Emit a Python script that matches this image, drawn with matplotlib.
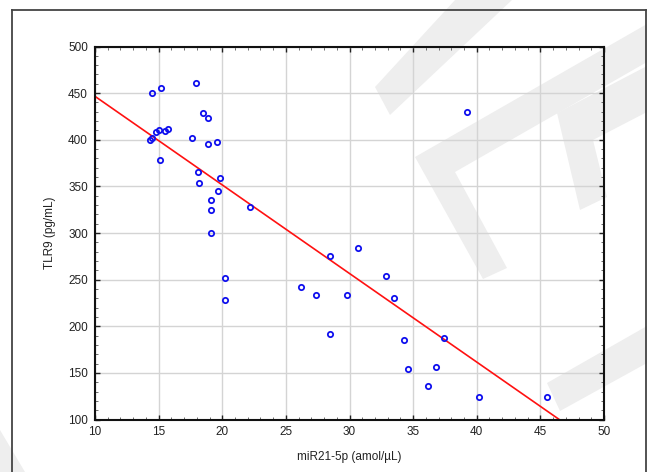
import matplotlib
matplotlib.use("Agg")
import matplotlib.pyplot as plt
import numpy as np
from matplotlib.patches import Polygon
from matplotlib.lines import Line2D
from matplotlib.ticker import MultipleLocator

plt.rcParams['font.family'] = ['Liberation Sans', 'DejaVu Sans']

# data
mir21 = [14.5, 15.2, 17.9, 18.5, 18.9, 14.3, 14.5, 14.8, 15.0, 15.5, 15.7, 17.6, 18.9, 19.6,
         15.1, 18.1, 18.2, 19.8, 19.7, 19.1, 19.1, 19.1, 22.2, 20.2, 20.2, 26.2, 27.4, 28.5,
         28.5, 29.8, 30.7, 32.9, 33.5, 34.3, 34.6, 36.8, 36.2, 37.4, 39.2, 40.2, 45.5]
tlr9 = [450, 455, 461, 429, 423, 400, 402, 408, 410, 409, 411, 402, 395, 398,
        378, 365, 354, 359, 345, 335, 325, 300, 328, 252, 228, 242, 233, 275,
        192, 234, 284, 254, 230, 185, 154, 156, 136, 187, 430, 124, 124]

xticks = [10, 15, 20, 25, 30, 35, 40, 45, 50]
yticks = [100, 150, 200, 250, 300, 350, 400, 450, 500]

W, H = 647, 472
fig = plt.figure(figsize=(W / 100, H / 100), dpi=100)
fig.patch.set_facecolor('white')

# watermark shapes in the background (pixel coords, top-left origin)
marks = [
    [(455, 0), (512, 0), (390, 115), (375, 87)],
    [(633, 32), (647, 24), (647, 62), (455, 172), (507, 268), (483, 279), (415, 157)],
    [(647, 66), (557, 113), (580, 210), (607, 197), (593, 140), (647, 112)],
    [(547, 383), (647, 326), (647, 363), (560, 411)],
    [(0, 430), (25, 472), (0, 472)],
]
for m in marks:
    pts = [(px / W, 1 - py / H) for px, py in m]
    fig.add_artist(Polygon(pts, closed=True, facecolor='#eeeeee', edgecolor='none',
                           transform=fig.transFigure, zorder=-5))

# outer frame
fx0, fx1, fy0 = 12 / W, 646 / W, 1 - 10 / H
for xs, ys in [([fx0, fx0], [0, fy0]), ([fx0, fx1], [fy0, fy0]), ([fx1, fx1], [fy0, 0])]:
    fig.add_artist(Line2D(xs, ys, color='#444444', lw=1.3, transform=fig.transFigure))

ax = fig.add_axes([95 / W, 1 - 419.5 / H, 509 / W, 373 / H])
ax.set_facecolor('none')

ax.plot(mir21, tlr9, 'o', ms=3.8, mfc='none', mec='#1010ee', mew=1.3, zorder=3)

# linear fit
k, b = np.polyfit(mir21, tlr9, 1)
fx = np.array([10, 50])
ax.plot(fx, k * fx + b, color='#ff1111', lw=1.2, zorder=2)

ax.set_xlim(10, 50)
ax.set_ylim(100, 500)
ax.set_xticks(xticks)
ax.set_yticks(yticks)
ax.xaxis.set_minor_locator(MultipleLocator(1))
ax.yaxis.set_minor_locator(MultipleLocator(10))
ax.tick_params(which='both', direction='in', top=True, right=True, labelsize=8.5, colors='#222222')
ax.tick_params(which='major', length=3.5, width=1)
ax.tick_params(which='minor', length=2, width=0.6, colors='#555555')
ax.tick_params(axis='x', pad=5)
ax.tick_params(axis='y', pad=5)
ax.grid(True, which='major', color='#d4d4d4', lw=1)
ax.set_axisbelow(True)
for s in ax.spines.values():
    s.set_linewidth(1.5)
    s.set_color('#111111')

ax.set_xlabel('miR21-5p (amol/µL)', fontsize=8.5, color='#222222', labelpad=9)
ax.set_ylabel('TLR9 (pg/mL)', fontsize=8.5, color='#222222', labelpad=9)

fig.savefig('out.png', dpi=100)
